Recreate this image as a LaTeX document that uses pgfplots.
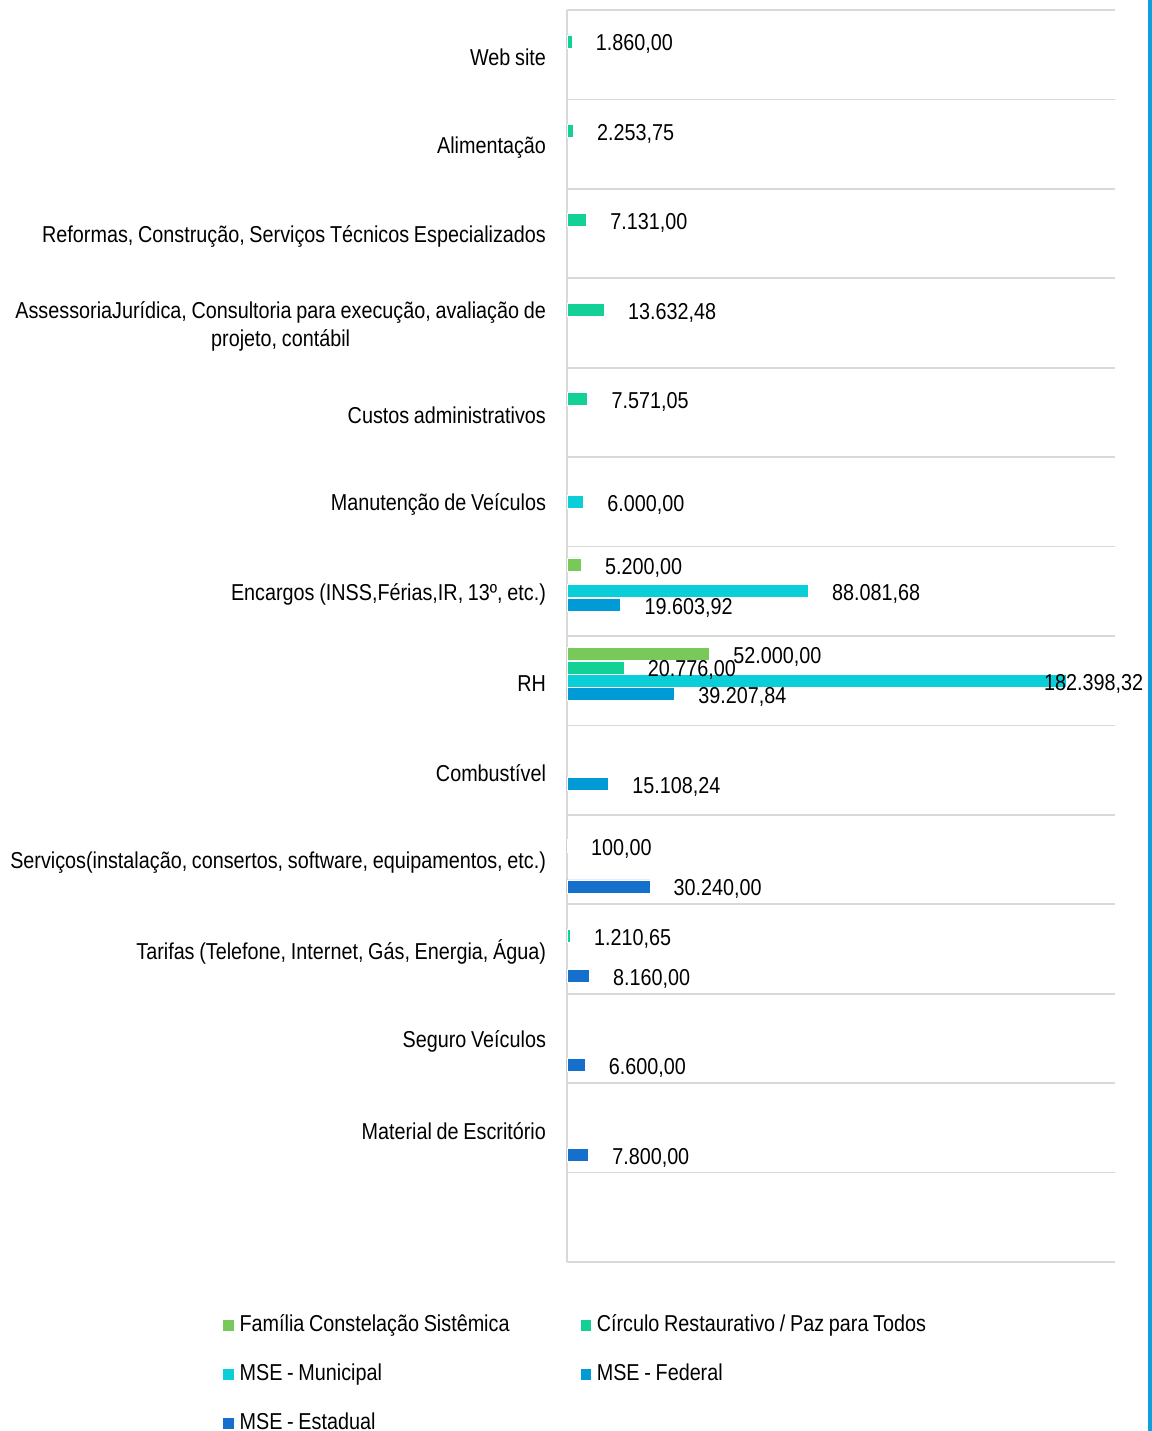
\documentclass[border=0pt]{standalone}
\usepackage{pgfplots}
\pgfplotsset{compat=1.18}
\usepackage{fontspec}
\setmainfont{Liberation Sans}[FakeStretch=0.86, WordSpace=0.86]
\definecolor{cfam}{RGB}{120,200,90}
\definecolor{ccir}{RGB}{18,208,150}
\definecolor{cmun}{RGB}{11,207,216}
\definecolor{cfed}{RGB}{0,154,214}
\definecolor{cest}{RGB}{21,112,203}
\definecolor{cgrid}{RGB}{217,217,217}
\definecolor{cline}{RGB}{16,160,224}
\newcommand{\ff}{\fontsize{11.5}{14}\selectfont}
\begin{document}
\ff
\begin{tikzpicture}
\begin{axis}[
  name=ax,
  scale only axis,
  width=274pt, height=626pt,
  xmin=0, xmax=200000,
  ymin=-0.5, ymax=13.5,
  axis x line=none,
  axis y line*=left,
  y axis line style={cgrid, line width=0.8pt, -},
  xbar, bar width=6.5pt,
  ytick={1,...,13},
  yticklabels={Material de Escritório, Seguro Veículos, {Tarifas (Telefone, Internet, Gás, Energia, Água)}, {Serviços(instalação, consertos, software, equipamentos, etc.)}, Combustível, RH, {Encargos (INSS,Férias,IR, 13º, etc.)}, Manutenção de Veículos, Custos administrativos, {AssessoriaJurídica, Consultoria para execução, avaliação de\\projeto, contábil}, {Reformas, Construção, Serviços Técnicos Especializados}, Alimentação, Web site},
  major tick length=0pt,
  minor ytick={-0.5,0.5,...,13.5},
  minor tick length=0pt,
  minor y grid style={cgrid, line width=0.8pt},
  yminorgrids=true,
  y tick label style={font=\ff, align=center, xshift=-6.5pt, yshift=-1.5pt},
  point meta=explicit symbolic,
  nodes near coords,
  nodes near coords style={font=\ff, anchor=west, xshift=8.5pt, yshift=-1.5pt, inner sep=3.3pt},
  legend columns=2,
  legend cell align=left,
  legend style={at={(0,0)}, anchor=north west, xshift=-172.5pt, yshift=-26pt,
    draw=none, fill=none, inner sep=0pt,
    font=\ff,
    nodes={inner xsep=0pt, inner ysep=0pt, text height=8.5pt, text depth=2.6pt},
    row sep=13.3pt,
    /tikz/every odd column/.append style={column sep=2.5pt},
    /tikz/every even column/.append style={column sep=0pt, text width=170pt, align=flush left}},
  legend image code/.code={\fill[#1] (0pt,-2.9pt) rectangle (5.8pt,2.9pt);},
]
\addplot[fill=cfam, draw=white, line width=0.3pt, bar shift=13.4pt] table[x=x,y=y,meta=l] {
x y l
5200 7 5.200,00
52000 6 52.000,00
};
\addlegendentry{\mbox{Família Constelação Sistêmica}}
\addplot[fill=ccir, draw=white, line width=0.3pt, bar shift=6.7pt] table[x=x,y=y,meta=l] {
x y l
1860 13 1.860,00
2253.75 12 2.253,75
7131 11 7.131,00
13632.48 10 13.632,48
7571.05 9 7.571,05
20776 6 20.776,00
100 4 100,00
1210.65 3 1.210,65
};
\addlegendentry{\mbox{Círculo Restaurativo / Paz para Todos}}
\addplot[fill=cmun, draw=white, line width=0.3pt, bar shift=0pt] table[x=x,y=y,meta=l] {
x y l
6000 8 6.000,00
88081.68 7 88.081,68
};
\addlegendentry{MSE - Municipal}
\addplot[fill=cfed, draw=white, line width=0.3pt, bar shift=-6.7pt] table[x=x,y=y,meta=l] {
x y l
19603.92 7 19.603,92
39207.84 6 39.207,84
15108.24 5 15.108,24
};
\addlegendentry{MSE - Federal}
\addplot[fill=cest, draw=white, line width=0.3pt, bar shift=-13.4pt] table[x=x,y=y,meta=l] {
x y l
30240 4 30.240,00
8160 3 8.160,00
6600 2 6.600,00
7800 1 7.800,00
};
\addlegendentry{MSE - Estadual}
\addplot[fill=cmun, draw=white, line width=0.3pt, bar shift=0pt, forget plot,
  nodes near coords style={xshift=-23.3pt}] table[x=x,y=y,meta=l] {
x y l
182398.32 6 182.398,32
};
\coordinate (sw) at (rel axis cs:0,0);
\coordinate (ne) at (rel axis cs:1,1);
\end{axis}
\pgfresetboundingbox
\path[use as bounding box] ([shift={(-283.5pt,-84.5pt)}]sw) rectangle ([shift={(18.5pt,5pt)}]ne);
\draw[cline, line width=2pt] ([shift={(17.3pt,-84.5pt)}]sw -| ne) -- ([shift={(17.3pt,5pt)}]ne);
\end{tikzpicture}
\end{document}
